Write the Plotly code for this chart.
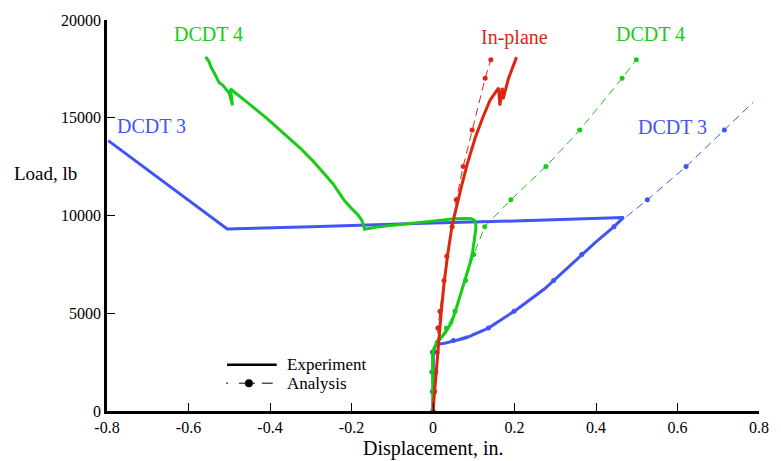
import plotly.graph_objects as go

# ---- Experiment curves (displacement in., load lb) ----
inplane_exp_x = [0, 0.004, 0.008, 0.012, 0.015, 0.020, 0.027, 0.036, 0.047, 0.056, 0.070,
                 0.085, 0.104, 0.122, 0.140, 0.161, 0.164, 0.170, 0.172, 0.185, 0.205]
inplane_exp_y = [0, 1000, 2000, 3000, 4000, 5000, 6500, 8000, 9500, 10300, 11500,
                 12700, 14000, 15000, 15900, 16530, 15630, 16530, 15950, 17000, 18100]

dcdt4_exp_x = [0, -0.001, -0.002, -0.001, 0.002, 0.010, 0.030, 0.045, 0.055, 0.068, 0.080,
               0.090, 0.097, 0.102, 0.105, 0.105, 0.101, 0.094, 0.080, 0.055, -0.050,
               -0.132, -0.168, -0.171, -0.176, -0.185, -0.197, -0.218, -0.245, -0.268,
               -0.296, -0.326, -0.367, -0.407, -0.452, -0.497, -0.492, -0.500, -0.515,
               -0.525, -0.537, -0.545, -0.550, -0.558]
dcdt4_exp_y = [0, 1000, 2000, 2800, 3200, 3500, 4000, 4500, 5100, 6000, 6700,
               7500, 8100, 8800, 9300, 9600, 9760, 9830, 9850, 9840, 9600,
               9430, 9300, 9550, 9800, 10050, 10300, 10780, 11610, 12170,
               12820, 13450, 14210, 14960, 15720, 16470, 15630, 16250, 16650,
               16800, 17300, 17600, 17890, 18110]

dcdt3_exp_x = [0, 0.0, 0.0, 0.001, 0.005, 0.015, 0.031, 0.080, 0.136, 0.209, 0.274,
               0.343, 0.400, 0.440, 0.468, 0.200, 0.0, -0.300, -0.505, -0.797]
dcdt3_exp_y = [0, 1000, 2000, 3000, 3300, 3420, 3480, 3730, 4240, 5240, 6250,
               7590, 8650, 9350, 9900, 9720, 9620, 9420, 9310, 13830]

# ---- Analysis curves ----
inplane_ana_x = [0, 0.004, 0.007, 0.010, 0.012, 0.017, 0.027, 0.034, 0.047, 0.057,
                 0.074, 0.096, 0.128, 0.142]
inplane_ana_y = [0, 1000, 2000, 3000, 4240, 5100, 6670, 7920, 9430, 10800,
                 12500, 14370, 17020, 17970]

dcdt4_ana_x = [0, -0.002, -0.003, -0.002, 0.010, 0.033, 0.054, 0.080, 0.100, 0.127,
               0.191, 0.277, 0.360, 0.464, 0.499]
dcdt4_ana_y = [0, 1000, 2000, 3000, 3500, 4240, 5100, 6670, 8000, 9430,
               10800, 12500, 14370, 17020, 17970]

dcdt3_ana_x = [0, 0.0, 0.0, 0.001, 0.010, 0.050, 0.136, 0.199, 0.296, 0.365, 0.444,
               0.526, 0.621, 0.715, 0.786]
dcdt3_ana_y = [0, 1000, 2000, 3000, 3400, 3600, 4240, 5100, 6670, 8000, 9430,
               10800, 12500, 14370, 15800]

# ---- Axis ticks ----
x_ticks = [-0.8, -0.6, -0.4, -0.2, 0, 0.2, 0.4, 0.6, 0.8]
x_tick_text = ["-0.8", "-0.6", "-0.4", "-0.2", "0", "0.2", "0.4", "0.6", "0.8"]
y_ticks = [0, 5000, 10000, 15000, 20000]
y_tick_text = ["0", "5000", "10000", "15000", "20000"]

RED = "rgb(222,38,14)"
GREEN = "rgb(22,204,22)"
BLUE = "rgb(66,84,246)"
FONT = "Liberation Serif"

fig = go.Figure()

def analysis(xs, ys, color, dots_upto=None):
    fig.add_trace(go.Scatter(x=xs, y=ys, mode="lines", showlegend=False,
                             line=dict(color=color, width=1, dash="8px,5px")))
    n = len(xs) if dots_upto is None else dots_upto
    fig.add_trace(go.Scatter(x=xs[:n], y=ys[:n], mode="markers", showlegend=False,
                             marker=dict(color=color, size=5)))

analysis(inplane_ana_x, inplane_ana_y, RED)
analysis(dcdt4_ana_x, dcdt4_ana_y, GREEN)
analysis(dcdt3_ana_x, dcdt3_ana_y, BLUE, dots_upto=len(dcdt3_ana_x) - 1)

for xs, ys, color in [(dcdt3_exp_x, dcdt3_exp_y, BLUE),
                      (dcdt4_exp_x, dcdt4_exp_y, GREEN),
                      (inplane_exp_x, inplane_exp_y, RED)]:
    fig.add_trace(go.Scatter(x=xs, y=ys, mode="lines", showlegend=False,
                             line=dict(color=color, width=3)))

# curve labels
labels = [
    (-0.55, 19300, "DCDT 4", GREEN),
    (0.20, 19100, "In-plane", RED),
    (0.533, 19300, "DCDT 4", GREEN),
    (-0.69, 14600, "DCDT 3", BLUE),
    (0.588, 14550, "DCDT 3", BLUE),
]
for x, y, t, c in labels:
    fig.add_annotation(x=x, y=y, text=t, showarrow=False,
                       font=dict(family=FONT, size=20, color=c))

# axis titles
fig.add_annotation(xref="paper", yref="paper", x=-0.094, y=0.607, text="Load, lb",
                   showarrow=False, xanchor="center", yanchor="middle",
                   font=dict(family=FONT, size=19, color="black"))
fig.add_annotation(xref="paper", yref="paper", x=0.5, y=-0.097, yanchor="middle",
                   text="Displacement, in.", showarrow=False,
                   font=dict(family=FONT, size=20, color="black"))

# key: solid = experiment, dashed with dots = analysis
def px_x(p):
    return (p - 107) / 657

def px_y(p):
    return (411 - p) / 398

key_shapes = [
    dict(type="line", x0=px_x(228), x1=px_x(278), y0=px_y(364), y1=px_y(364),
         line=dict(color="black", width=2.5)),
    dict(type="line", x0=px_x(227), x1=px_x(229), y0=px_y(382.7), y1=px_y(382.7),
         line=dict(color="black", width=1)),
    dict(type="line", x0=px_x(240), x1=px_x(256), y0=px_y(382.7), y1=px_y(382.7),
         line=dict(color="black", width=1)),
    dict(type="line", x0=px_x(263), x1=px_x(274), y0=px_y(382.7), y1=px_y(382.7),
         line=dict(color="black", width=1)),
    dict(type="circle", x0=px_x(246), x1=px_x(254), y0=px_y(386.7), y1=px_y(378.7),
         fillcolor="black", line=dict(color="black", width=0)),
]
for s in key_shapes:
    fig.add_shape(xref="paper", yref="paper", **s)
for yy, t in [(364, "Experiment"), (382.7, "Analysis")]:
    fig.add_annotation(xref="paper", yref="paper", x=px_x(286), y=px_y(yy), text=t,
                       showarrow=False, xanchor="left", yanchor="middle",
                       font=dict(family=FONT, size=17, color="black"))

axis_common = dict(showgrid=False, zeroline=False, showline=True, linecolor="black",
                   linewidth=2.5, ticks="inside", ticklen=8, tickwidth=1.2,
                   tickcolor="black",
                   tickfont=dict(family="Liberation Serif, serif", size=16, color="black"))

fig.update_layout(
    width=781, height=461,
    margin=dict(l=107, r=17, t=13, b=50),
    paper_bgcolor="white", plot_bgcolor="white",
    font=dict(family="Liberation Serif, serif", size=16, color="black"),
    showlegend=False,
    xaxis=dict(range=[-0.8, 0.8], tickvals=x_ticks, ticktext=x_tick_text, **axis_common),
    yaxis=dict(range=[0, 20000], tickvals=y_ticks, ticktext=y_tick_text, **axis_common),
)

fig.write_html("out.html")
